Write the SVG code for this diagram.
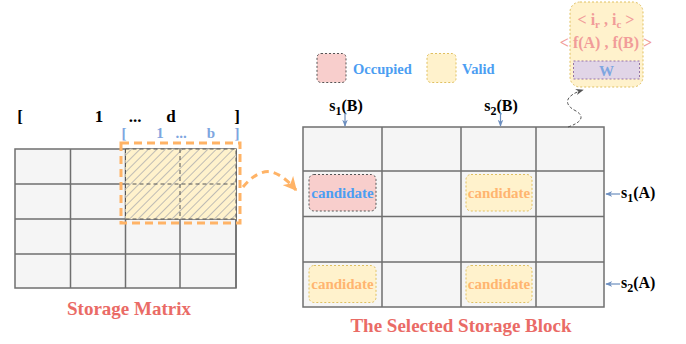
<svg xmlns="http://www.w3.org/2000/svg" width="686" height="344" viewBox="0 0 686 344">
<style>
text{font-family:"Liberation Serif","Times New Roman",serif;font-weight:bold}
.cell{fill:#F5F5F5;stroke:#6F6F6F;stroke-width:1.5}
.blk{fill:#000;font-size:17px}
.blu{fill:#7EA6E0;font-size:15px}
.lbl{fill:#000;font-size:16px}
.title{fill:#EA6B66;font-size:19px}
.cand{font-size:15px;text-anchor:middle}
.occ{fill:#F8CECC;stroke:#555;stroke-width:1;stroke-dasharray:2 2}
.val{fill:#FFF2CC;stroke:#E0C060;stroke-width:1;stroke-dasharray:2 2}
.ptr{stroke:#6C8EBF;stroke-width:1.2;fill:none}
</style>
<defs>
<pattern id="hatch" width="6" height="6" patternUnits="userSpaceOnUse" patternTransform="rotate(45)">
<rect width="6" height="6" fill="#FFF2CC"/>
<line x1="0" y1="0" x2="0" y2="6" stroke="#AFAFAF" stroke-width="1.6"/>
</pattern>
<marker id="ab" viewBox="0 0 10 10" refX="9" refY="5" markerWidth="7" markerHeight="7" orient="auto" markerUnits="userSpaceOnUse">
<path d="M0,1 L10,5 L0,9 L3,5 Z" fill="#6C8EBF"/>
</marker>
<marker id="ao" viewBox="0 0 10 10" refX="9" refY="5" markerWidth="14" markerHeight="14" orient="auto" markerUnits="userSpaceOnUse">
<path d="M0,0 L10,5 L0,10 L3,5 Z" fill="#FFB366"/>
</marker>
<marker id="ag" viewBox="0 0 10 10" refX="9" refY="5" markerWidth="8" markerHeight="8" orient="auto" markerUnits="userSpaceOnUse">
<path d="M0,1 L10,5 L0,9 L3,5 Z" fill="#555"/>
</marker>
</defs>

<g id="storage-matrix">
<rect x="15" y="149" width="221" height="139" class="cell"/>
<path d="M70.5 149V288M125.5 149V288M180 149V288M236 149V288M15 184H236M15 219H236M15 254H236" stroke="#6F6F6F" stroke-width="1.5" fill="none"/>
<rect x="125.5" y="149" width="110.5" height="70" fill="url(#hatch)" stroke="#555" stroke-width="1" stroke-dasharray="4 3"/>
<path d="M180 149V219M125.5 184H236" stroke="#555" stroke-width="1" stroke-dasharray="4 3" fill="none"/>
<rect x="121" y="143" width="119" height="80" fill="none" stroke="#FFB366" stroke-width="3" stroke-dasharray="8 5"/>
<text class="blk" x="20" y="122" text-anchor="middle">[</text>
<text class="blk" x="99" y="122" text-anchor="middle">1</text>
<text class="blk" x="135" y="122" text-anchor="middle">...</text>
<text class="blk" x="171" y="122" text-anchor="middle">d</text>
<text class="blk" x="237" y="122" text-anchor="middle">]</text>
<text class="blu" x="124" y="138" text-anchor="middle">[</text>
<text class="blu" x="160" y="138" text-anchor="middle">1</text>
<text class="blu" x="181" y="138" text-anchor="middle">...</text>
<text class="blu" x="211" y="138" text-anchor="middle">b</text>
<text class="blu" x="237" y="138" text-anchor="middle">]</text>
<text class="title" x="129" y="315" text-anchor="middle">Storage Matrix</text>
</g>

<g id="legend">
<rect x="317" y="53.5" width="29" height="29" rx="4" class="occ"/>
<text x="353" y="74" fill="#4C9EF2" font-size="14.5">Occupied</text>
<rect x="427" y="53.5" width="29" height="29" rx="4" class="val"/>
<text x="462" y="74" fill="#4C9EF2" font-size="14.5">Valid</text>
</g>

<g id="selected-block">
<rect x="303" y="127" width="301" height="180" class="cell"/>
<path d="M382 127V307M461 127V307M536 127V307M303 171H604M303 216.5H604M303 262H604" stroke="#6F6F6F" stroke-width="1.5" fill="none"/>
<text class="title" x="461" y="332" text-anchor="middle">The Selected Storage Block</text>
</g>

<g id="cand-occupied">
<rect x="309" y="174.5" width="67" height="36.5" rx="5" class="occ"/>
<text class="cand" x="342.5" y="198" fill="#4C9EF2">candidate</text>
</g>
<g id="cand-valid-1">
<rect x="466" y="174.5" width="66" height="36.5" rx="5" class="val"/>
<text class="cand" x="499" y="198" fill="#FFB570">candidate</text>
</g>
<g id="cand-valid-2">
<rect x="309" y="265.5" width="67" height="37" rx="5" class="val"/>
<text class="cand" x="342.5" y="289" fill="#FFB570">candidate</text>
</g>
<g id="cand-valid-3">
<rect x="466" y="265.5" width="66" height="37" rx="5" class="val"/>
<text class="cand" x="499" y="289" fill="#FFB570">candidate</text>
</g>

<g id="labels">
<text class="lbl" x="346" y="111" text-anchor="middle">s<tspan font-size="12" dy="4">1</tspan><tspan dy="-4">(B)</tspan></text>
<text class="lbl" x="501" y="111" text-anchor="middle">s<tspan font-size="12" dy="4">2</tspan><tspan dy="-4">(B)</tspan></text>
<text class="lbl" x="621" y="198">s<tspan font-size="12" dy="4">1</tspan><tspan dy="-4">(A)</tspan></text>
<text class="lbl" x="621" y="288">s<tspan font-size="12" dy="4">2</tspan><tspan dy="-4">(A)</tspan></text>
</g>

<g id="info-box">
<rect x="570" y="2" width="73" height="85" rx="10" fill="#FFF2CC" stroke="#E0C060" stroke-width="1" stroke-dasharray="2 2"/>
<text x="606" y="25" text-anchor="middle" fill="#F19C99" font-size="16">&lt; i<tspan font-size="11" dy="3">r</tspan><tspan dy="-3"> ,  i</tspan><tspan font-size="11" dy="3">c</tspan><tspan dy="-3"> &gt;</tspan></text>
<text x="606" y="48" text-anchor="middle" fill="#F19C99" font-size="16">&lt; f(A) ,  f(B) &gt;</text>
<rect x="573.5" y="61" width="66" height="18" fill="#E1D5E7" stroke="#9673A6" stroke-width="1" stroke-dasharray="2 2"/>
<text x="606.5" y="75.5" text-anchor="middle" fill="#7EA6E0" font-size="15">W</text>
</g>

<g id="connectors">
<path d="M345 113V126" class="ptr" marker-end="url(#ab)"/>
<path d="M500.5 113V126" class="ptr" marker-end="url(#ab)"/>
<path d="M620 194H606" class="ptr" marker-end="url(#ab)"/>
<path d="M620 284H606" class="ptr" marker-end="url(#ab)"/>
<path d="M243 187 C252 176 262 170 272 172 C282 175 290 183 296 190" fill="none" stroke="#FFB366" stroke-width="3" stroke-dasharray="7 5" marker-end="url(#ao)"/>
<path d="M568 127 C580 123 586 117 576 111 C562 104 566 95 583 90" fill="none" stroke="#555" stroke-width="1" stroke-dasharray="3 2" marker-end="url(#ag)"/>
</g>
</svg>
